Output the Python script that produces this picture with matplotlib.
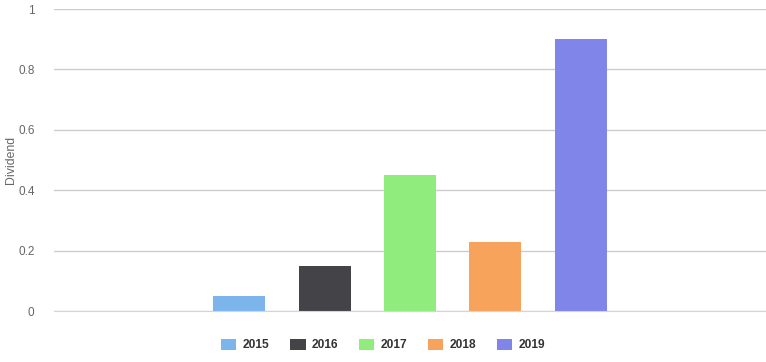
import matplotlib
matplotlib.use('Agg')
from matplotlib import pyplot as plt
from matplotlib.patches import Patch

#----------------------------Data----------------------------------------------#
years = ['2015', '2016', '2017', '2018', '2019']
dividend = [0.05, 0.15, 0.45, 0.23, 0.9]
colors = ['#7cb5ec', '#434348', '#90ed7d', '#f7a35c', '#8085e9']
y_ticks = [0, 0.2, 0.4, 0.6, 0.8, 1]
y_tick_labels = ['0', '0.2', '0.4', '0.6', '0.8', '1']

#----------------------------Plotting------------------------------------------#
plt.rcParams['font.family'] = ['Liberation Sans', 'DejaVu Sans']

fig = plt.figure(figsize=(7.66, 3.62), dpi=100)
ax = fig.add_axes([54 / 766, 51 / 362, 712 / 766, 302 / 362])

xs = list(range(len(years)))
ax.bar(xs, dividend, width=0.61, color=colors, zorder=3)

ax.set_xlim(-2.17, 6.17)
ax.set_ylim(0, 1)
ax.set_yticks(y_ticks)
ax.set_yticklabels(y_tick_labels)
ax.set_xticks([])
ax.grid(axis='y', color='#cccccc', linewidth=1, zorder=0)
ax.tick_params(axis='y', length=0, pad=14, labelsize=8.5, labelcolor='#666666')
for s in ['top', 'right', 'left']:
    ax.spines[s].set_visible(False)
ax.spines['bottom'].set_color('#ccd6eb')
ax.spines['bottom'].set_zorder(4)
ax.set_ylabel('Dividend', fontsize=8.8, color='#666666', labelpad=1)

handles = [Patch(facecolor=c, edgecolor='none') for c in colors]
leg = fig.legend(handles, years, loc='center', bbox_to_anchor=(0.5, 17 / 362),
                 ncol=5, frameon=False, handlelength=1.3, handleheight=1.1,
                 handletextpad=0.5, columnspacing=1.75,
                 prop={'weight': 'bold', 'size': 8.6})
for t in leg.get_texts():
    t.set_color('#333333')

fig.savefig('out.png', dpi=100)
